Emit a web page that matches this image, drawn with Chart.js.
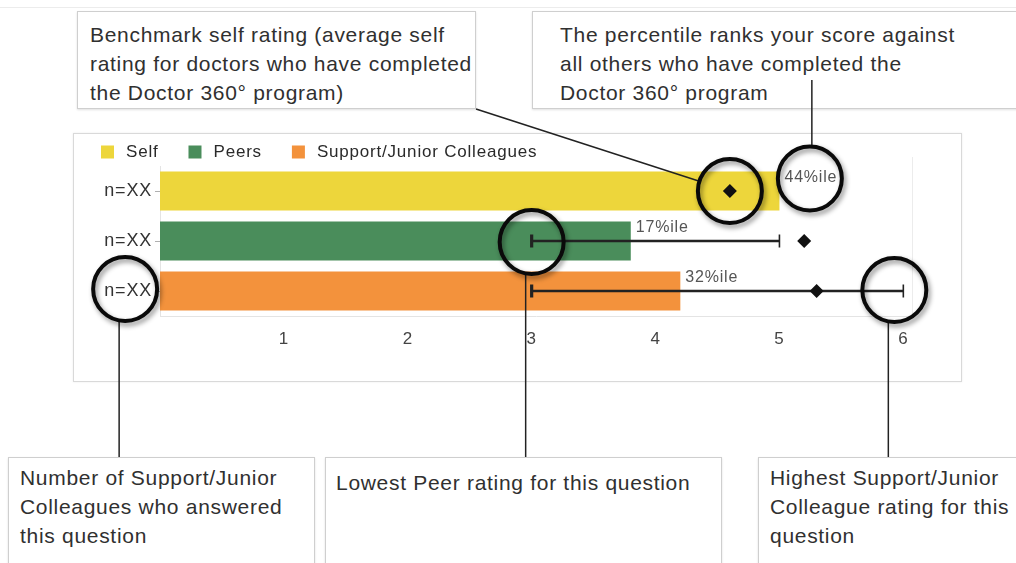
<!DOCTYPE html>
<html>
<head>
<meta charset="utf-8">
<title>Doctor 360 rating chart</title>
<script src="https://cdn.jsdelivr.net/npm/chart.js@4"></script>
<style>
  html, body { margin: 0; padding: 0; background: #fff; }
  body { width: 1016px; height: 563px; position: relative; overflow: hidden;
         font-family: Arial, "Liberation Sans", Helvetica, sans-serif; }
  .topline { position: absolute; left: 0; top: 7px; width: 1016px; border-top: 1px solid #ececec; }
  .panel { position: absolute; left: 73px; top: 133px; width: 889px; height: 249px;
           box-sizing: border-box; border: 1px solid #d9d9d9; box-shadow: 0 0 2px rgba(0,0,0,.08); }
  .note { position: absolute; box-sizing: border-box; border: 1px solid #cfcfcf; background: #fff;
          box-shadow: 0 1px 2px rgba(0,0,0,.12);
          font-size: 21px; line-height: 29px; letter-spacing: 0.7px; color: #303030; white-space: nowrap; }
  #chart { position: absolute; left: 0; top: 0; z-index: 5; }
</style>
</head>
<body>
<div class="topline"></div>
<div class="panel"></div>

<div class="note" style="left:77px;top:11px;width:399px;height:98px;padding:8px 0 0 12px;">Benchmark self rating (average self<br>rating for doctors who have completed<br>the Doctor 360° program)</div>
<div class="note" style="left:532px;top:11px;width:520px;height:98px;padding:8px 0 0 27px;">The percentile ranks your score against<br>all others who have completed the<br>Doctor 360° program</div>
<div class="note" style="left:8px;top:457px;width:307px;height:130px;padding:5px 0 0 11px;">Number of Support/Junior<br>Colleagues who answered<br>this question</div>
<div class="note" style="left:325px;top:457px;width:397px;height:130px;padding:10px 0 0 10px;">Lowest Peer rating for this question</div>
<div class="note" style="left:758px;top:457px;width:300px;height:130px;padding:5px 0 0 11px;">Highest Support/Junior<br>Colleague rating for this<br>question</div>

<canvas id="chart" width="1016" height="563"></canvas>

<script>
'use strict';

/* ── データ ───────────────────────────── */
const CATEGORIES  = ['n=XX', 'n=XX', 'n=XX'];
const SERIES      = ['Self', 'Peers', 'Support/Junior Colleagues'];
const SCORES      = [5.0, 3.8, 4.2];
const BENCHMARKS  = [4.6, 5.2, 5.3];
const RANGE_LOW   = [null, 3.0, 3.0];
const RANGE_HIGH  = [null, 5.0, 6.0];
const PERCENTILES = ['44%ile', '17%ile', '32%ile'];
const X_TICKS     = [1, 2, 3, 4, 5, 6];
const COLORS      = ['#EDD63B', '#4A8D5B', '#F3923C'];

const FONT = 'Arial, "Liberation Sans", Helvetica, sans-serif';
const INK  = '#222';

/* ── datasets ─────────────────────────── */
const barSets = SERIES.map((name, i) => ({
  type: 'bar',
  label: name,
  data: SCORES.map((v, j) => (j === i ? v : null)),
  backgroundColor: COLORS[i],
  borderWidth: 0,
  grouped: false,
  barPercentage: 0.78,
  categoryPercentage: 1,
  order: 4,
}));

// 最低〜最高の横線（浮動バー）
const rangeSet = {
  type: 'bar',
  label: 'range',
  data: RANGE_LOW.map((lo, i) => (lo == null ? null : [lo, RANGE_HIGH[i]])),
  backgroundColor: INK,
  borderWidth: 0,
  grouped: false,
  barThickness: 1.8,
  order: 3,
};

// 端のキャップ（data の index = カテゴリ index、null は x:null で飛ばす）
const capSet = (vals, w) => ({
  type: 'scatter',
  label: 'cap',
  data: vals.map((v, i) => ({ x: v, y: i })),
  pointStyle: 'line',
  pointRotation: 90,
  pointRadius: 6.5,
  pointHoverRadius: 6.5,
  borderColor: INK,
  pointBorderColor: INK,
  pointBorderWidth: w,
  showLine: false,
  order: 2,
});

const benchSet = {
  type: 'scatter',
  label: 'benchmark',
  data: BENCHMARKS.map((v, i) => ({ x: v, y: i })),
  pointStyle: 'rectRot',
  pointRadius: 7,
  pointHoverRadius: 7,
  backgroundColor: '#111',
  borderColor: '#111',
  borderWidth: 0,
  showLine: false,
  order: 1,
};

/* ── 注釈（凡例・%ile・丸・引き出し線） ── */
const annotate = {
  id: 'annotate',
  beforeDraw(chart) {
    chart.ctx.letterSpacing = '0.8px';
  },
  afterDatasetsDraw(chart) {
    const { ctx, scales: { x, y }, chartArea } = chart;
    ctx.save();

    // 右枠（薄）
    ctx.strokeStyle = '#ececec';
    ctx.lineWidth = 1;
    ctx.beginPath();
    ctx.moveTo(chartArea.right + 0.5, chartArea.top - 9);
    ctx.lineTo(chartArea.right + 0.5, chartArea.bottom);
    ctx.stroke();

    // 凡例
    ctx.font = '17px ' + FONT;
    ctx.textBaseline = 'middle';
    let lx = 101;
    const ly = 152;
    SERIES.forEach((name, i) => {
      ctx.fillStyle = COLORS[i];
      ctx.fillRect(lx, ly - 6.5, 13, 13);
      ctx.fillStyle = '#2a2a2a';
      ctx.fillText(name, lx + 25, ly);
      lx += 25 + ctx.measureText(name).width + 30;
    });

    // %ile ラベル
    ctx.font = '16px ' + FONT;
    ctx.fillStyle = '#555';
    const pctBox = [];
    PERCENTILES.forEach((t, i) => {
      const bar = chart.getDatasetMeta(i).data[i];
      const tx = bar.x + 5;
      const ty = bar.y - bar.height / 2 + 6;
      ctx.fillText(t, tx, ty);
      pctBox.push({ cx: tx + ctx.measureText(t).width / 2, cy: ty });
    });

    // y ラベル中心
    ctx.font = '18px ' + FONT;
    const lblW = ctx.measureText(CATEGORIES[2]).width;
    const lblCx = x.left - 8 - lblW / 2;

    const R = 32;
    const rings = [
      { cx: x.getPixelForValue(BENCHMARKS[0]), cy: y.getPixelForValue(0) },
      { cx: pctBox[0].cx - 1, cy: pctBox[0].cy + 1 },
      { cx: x.getPixelForValue(RANGE_LOW[1]), cy: y.getPixelForValue(1) + 1 },
      { cx: lblCx - 3, cy: y.getPixelForValue(2) - 2 },
      { cx: x.getPixelForValue(RANGE_HIGH[2]) - 9, cy: y.getPixelForValue(2) - 1 },
    ];

    // 引き出し線
    ctx.strokeStyle = INK;
    ctx.lineWidth = 1.5;
    const line = (x1, y1, x2, y2) => {
      ctx.beginPath(); ctx.moveTo(x1, y1); ctx.lineTo(x2, y2); ctx.stroke();
    };
    // 左上の箱 → ベンチマーク
    const b0 = { x: 476, y: 109 };
    const r0 = rings[0];
    const d = Math.hypot(b0.x - r0.cx, b0.y - r0.cy);
    line(b0.x, b0.y, r0.cx + (b0.x - r0.cx) / d * R, r0.cy + (b0.y - r0.cy) / d * R);
    // 右上の箱 → %ile
    line(rings[1].cx + 2, 80, rings[1].cx + 2, rings[1].cy - R);
    // 下の箱へ
    [3, 2, 4].forEach(k => {
      const r = rings[k];
      const off = -6;
      line(r.cx + off, r.cy + Math.sqrt(R * R - off * off), r.cx + off, 457);
    });

    // 丸
    ctx.shadowColor = 'rgba(0,0,0,0.45)';
    ctx.shadowBlur = 5;
    ctx.shadowOffsetX = 2;
    ctx.shadowOffsetY = 3;
    ctx.strokeStyle = '#0a0a0a';
    ctx.lineWidth = 4;
    rings.forEach(r => {
      ctx.beginPath();
      ctx.arc(r.cx, r.cy, R, 0, Math.PI * 2);
      ctx.stroke();
    });
    ctx.restore();
  },
};

new Chart(document.getElementById('chart'), {
  data: {
    labels: CATEGORIES,
    datasets: [...barSets, rangeSet, capSet(RANGE_LOW, 3.2), capSet(RANGE_HIGH, 1.6), benchSet],
  },
  options: {
    indexAxis: 'y',
    responsive: false,
    animation: false,
    layout: { padding: { left: 93, top: 166, right: 104, bottom: 217 } },
    plugins: {
      legend: { display: false },
      tooltip: { enabled: false },
    },
    scales: {
      x: {
        type: 'linear',
        min: 0,
        max: 6.07,
        afterBuildTicks: s => { s.ticks = X_TICKS.map(v => ({ value: v })); },
        afterFit: s => { s.height = 30; },
        grid: { display: false, drawTicks: false },
        border: { display: true, color: '#e4e4e4' },
        ticks: { color: '#444', padding: 13, font: { family: FONT, size: 17 } },
      },
      y: {
        type: 'category',
        offset: true,
        afterFit: s => { s.width = 67; },
        grid: { drawOnChartArea: false, drawTicks: true, tickLength: 5, offset: false, color: '#b0b0b0' },
        border: { display: true, color: '#e4e4e4' },
        ticks: { color: '#333', padding: 3, font: { family: FONT, size: 18 } },
      },
    },
  },
  plugins: [annotate],
});
</script>
</body>
</html>
